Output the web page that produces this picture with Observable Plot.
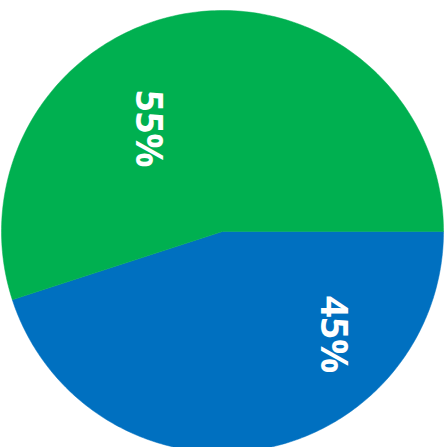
<!DOCTYPE html>
<html>
<head>
<meta charset="utf-8">
<script src="https://cdn.jsdelivr.net/npm/d3@7"></script>
<script src="https://cdn.jsdelivr.net/npm/@observablehq/plot@0.6"></script>
<style>
  html, body { margin: 0; padding: 0; background: #fff; overflow: hidden; }
</style>
</head>
<body>
<div id="chart"></div>
<script>
const categories = ["Segment A", "Segment B"];
const values = [45, 55];
const labels = ["45%", "55%"];
const colors = ["#0070C0", "#00B050"];

const W = 448, H = 447;
const cx = 222, cy = 231, R = 221;
const labelShiftDeg = [-38, -27];
const labelRadius = [151, 127];

const pie = d3.pie().sort(null).startAngle(Math.PI / 2).endAngle(Math.PI / 2 + 2 * Math.PI);
const arcs = pie(values);

const pts = [];
arcs.forEach((a, i) => {
  const name = categories[i];
  pts.push({name, x: 0, y: 0});
  const n = 200;
  for (let k = 0; k <= n; k++) {
    const t = a.startAngle + (a.endAngle - a.startAngle) * k / n;
    pts.push({name, x: R * Math.sin(t), y: -R * Math.cos(t)});
  }
  pts.push({name, x: 0, y: 0});
});

const labelData = arcs.map((a, i) => {
  const mid = (a.startAngle + a.endAngle) / 2 + labelShiftDeg[i] * Math.PI / 180;
  return {text: labels[i], x: labelRadius[i] * Math.sin(mid), y: -labelRadius[i] * Math.cos(mid)};
});

const chart = Plot.plot({
  width: W,
  height: H,
  margin: 0,
  x: {domain: [-cx, W - cx], range: [0, W], axis: null},
  y: {domain: [-cy, H - cy], range: [0, H], axis: null},
  color: {type: "ordinal", domain: categories, range: colors},
  style: {background: "#fff", overflow: "hidden"},
  marks: [
    Plot.line(pts, {x: "x", y: "y", z: "name", fill: "name", stroke: "name", strokeWidth: 0.5, curve: "linear"}),
    Plot.text(labelData, {
      x: "x", y: "y", text: "text", rotate: 90,
      fill: "white", fontSize: 38, fontWeight: "bold",
      fontFamily: "'Open Sans', sans-serif"
    })
  ]
});
document.getElementById("chart").appendChild(chart);
</script>
</body>
</html>
